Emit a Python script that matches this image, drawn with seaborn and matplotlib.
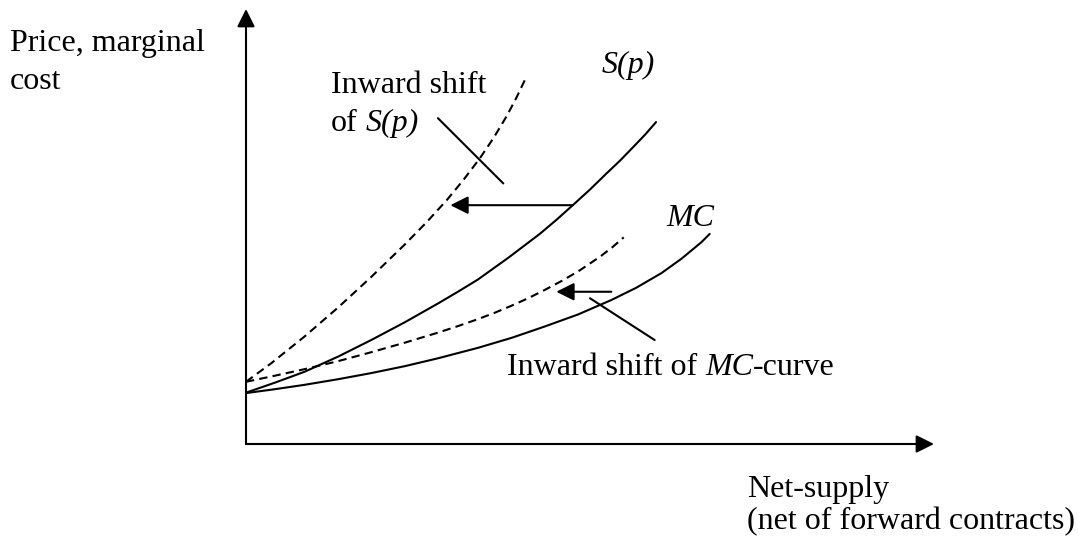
import numpy as np
import pandas as pd
import seaborn as sns
import matplotlib.pyplot as plt

# curves, quantity and price both on a 0-100 scale
s_x = [0, 4.2, 8.5, 13.4, 18.2, 23.1, 27.9, 30.8, 33.7, 38.2, 42.7,
       45.1, 47.5, 50.0, 52.4, 54.4, 56.3, 58.0, 59.6]
s_y = [11.8, 14.1, 16.6, 20.1, 23.9, 28.0, 32.3, 35.0, 37.8, 42.9, 48.3,
       51.5, 54.9, 58.5, 62.2, 65.2, 68.3, 71.1, 74.0]

s_shift_x = [0, 3.7, 8.5, 13.4, 18.2, 23.1, 26.2, 29.2, 31.6, 34.0,
             36.0, 37.9, 39.3, 40.6]
s_shift_y = [14.3, 18.6, 24.7, 31.4, 38.4, 45.9, 50.9, 56.1, 60.7, 65.7,
             70.4, 75.4, 79.6, 83.9]

mc_x = [0, 4.2, 8.5, 13.4, 18.2, 23.1, 27.9, 33.7, 38.6, 43.4, 48.3,
        53.1, 56.7, 60.4, 63.3, 66.2, 67.4]
mc_y = [11.7, 12.6, 13.6, 14.9, 16.3, 17.9, 19.7, 22.1, 24.4, 27.0, 29.8,
        33.1, 35.9, 39.3, 42.6, 46.4, 48.3]

mc_shift_x = [0, 4.2, 8.5, 13.4, 18.2, 23.1, 27.9, 30.8, 33.7, 36.2,
              38.6, 41.0, 43.4, 45.9, 48.3, 51.5, 53.3, 54.9]
mc_shift_y = [14.3, 15.7, 17.2, 19.05, 21.1, 23.3, 25.6, 27.1, 28.7, 30.2,
              31.8, 33.5, 35.4, 37.5, 39.7, 43.1, 45.3, 47.5]

W, H = 1079, 546

sns.set_style('white')
plt.rcParams['font.family'] = ['Liberation Serif', 'DejaVu Serif']

fig = plt.figure(figsize=(W / 100, H / 100), dpi=100)
ax = fig.add_axes([0, 0, 1, 1])
# origin sits at pixel (246, 444); 6.88 px per x unit, 4.35 px per y unit
ax.set_xlim(-246 / 6.88, (W - 246) / 6.88)
ax.set_ylim((444 - H) / 4.35, 444 / 4.35)
ax.axis('off')

dash = (0, (4, 2.5))
sns.lineplot(x=s_x, y=s_y, ax=ax, color='black', lw=1.5,
             sort=False, estimator=None)
sns.lineplot(x=s_shift_x, y=s_shift_y, ax=ax, color='black', lw=1.5,
             sort=False, estimator=None, linestyle=dash)
sns.lineplot(x=mc_x, y=mc_y, ax=ax, color='black', lw=1.5,
             sort=False, estimator=None)
sns.lineplot(x=mc_shift_x, y=mc_shift_y, ax=ax, color='black', lw=1.5,
             sort=False, estimator=None, linestyle=dash)

arrow = dict(arrowstyle='-|>,head_length=0.8,head_width=0.4',
             mutation_scale=13.5, color='black', lw=1.5,
             shrinkA=0, shrinkB=0)
# axes
ax.annotate('', xy=(100, 0), xytext=(0, 0), arrowprops=arrow)
ax.annotate('', xy=(0, 100), xytext=(0, 0), arrowprops=arrow)
# shift arrows
ax.annotate('', xy=(29.7, 54.9), xytext=(47.5, 54.9), arrowprops=arrow)
ax.annotate('', xy=(45.1, 35.0), xytext=(53.1, 35.0), arrowprops=arrow)
# leader lines
ax.plot([27.9, 37.4], [74.9, 59.9], color='black', lw=1.5)
ax.plot([50.0, 59.4], [33.5, 23.9], color='black', lw=1.5)

renderer = fig.canvas.get_renderer()


def label(px, py, parts):
    # parts: list of (text, style, gap before in px)
    x = px
    for s, style, gap in parts:
        x += gap
        t = fig.text(x / W, 1 - py / H, s, fontsize=23, fontstyle=style,
                     color='black', ha='left', va='baseline')
        x = t.get_window_extent(renderer=renderer).x1


sp = 8
label(10, 51, [('Price, marginal', 'normal', 0)])
label(10, 89, [('cost', 'normal', 0)])
label(331, 93, [('Inward shift', 'normal', 0)])
label(331, 131, [('of', 'normal', 0), ('S(p)', 'italic', sp)])
label(602, 73, [('S(p)', 'italic', 0)])
label(666, 226, [('MC', 'italic', 0)])
label(507, 375, [('Inward shift of', 'normal', 0), ('MC', 'italic', sp),
                 ('-curve', 'normal', 0)])
label(747, 497, [('Net-supply', 'normal', 0)])
label(747, 529, [('(net of forward contracts)', 'normal', 0)])

plt.savefig('out.png', dpi=100)
